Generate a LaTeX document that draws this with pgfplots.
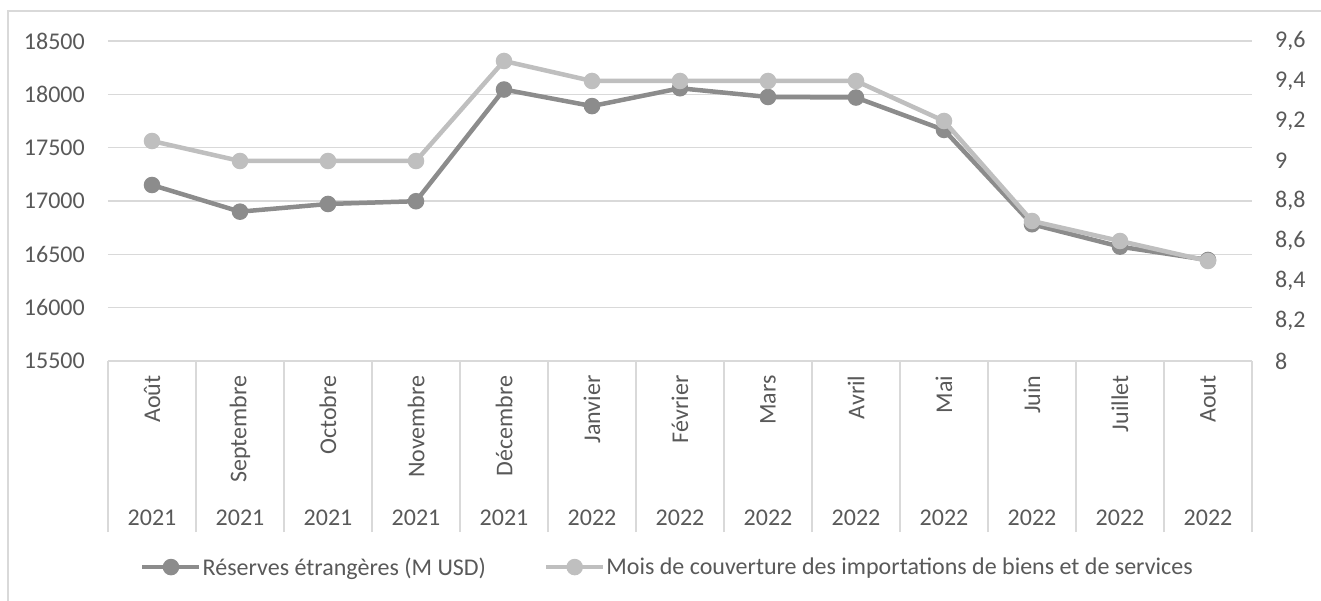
\documentclass[border=0pt]{standalone}
\usepackage{pgfplots}
\pgfplotsset{compat=1.18}
\usepackage{fontspec}
\setmainfont{Carlito}
\definecolor{textgray}{HTML}{595959}
\definecolor{gridgray}{HTML}{D9D9D9}
\definecolor{darkser}{HTML}{8C8C8C}
\definecolor{lightser}{HTML}{BFBFBF}
\newcommand{\lbl}{\fontsize{24}{28.5}\selectfont}
\begin{document}
\begin{tikzpicture}
\useasboundingbox (-108pt,-240pt) rectangle (1213pt,361pt);
\draw[gridgray, line width=1.3pt] (-100pt,-250pt) -- (-100pt,350pt) -- (1230pt,350pt);
\pgfplotsset{
  base/.style={
    scale only axis, width=1144pt, height=320pt,
    xmin=-0.5, xmax=12.5,
    clip=false,
    axis line style={draw=none},
    major tick length=0pt,
    tick style={draw=none},
    xtick=\empty,
    scaled ticks=false,
    ticklabel style={font=\lbl, text=textgray},
    /pgf/number format/assume math mode=true,
    /pgf/number format/set thousands separator={},
  },
  ser/.style={line width=4.5pt, mark=*, mark size=6pt, mark options={solid}},
}
\begin{axis}[base,
  ymin=15500, ymax=18500,
  ytick={15500,16000,16500,17000,17500,18000,18500},
  ytick pos=left,
  yticklabel style={inner sep=0pt, xshift=-23pt},
  ymajorgrids,
  grid style={draw=gridgray, line width=1.3pt},
  xtick pos=bottom,
  extra x ticks={-0.5,0.5,1.5,2.5,3.5,4.5,5.5,6.5,7.5,8.5,9.5,10.5,11.5,12.5},
  extra x tick labels={},
  extra x tick style={major tick length=171pt, tick align=outside,
    tick style={draw=gridgray, line width=1.3pt}, grid=none},
]
\addplot[ser, color=darkser] coordinates {
 (0,17150) (1,16900) (2,16972) (3,16998) (4,18045) (5,17890) (6,18057)
 (7,17975) (8,17970) (9,17666) (10,16782) (11,16572) (12,16447)};
\foreach \i/\m in {0/Août,1/Septembre,2/Octobre,3/Novembre,4/Décembre,5/Janvier,6/Février,7/Mars,8/Avril,9/Mai,10/Juin,11/Juillet,12/Aout}{
  \edef\tmp{\noexpand\node[rotate=90, anchor=east, inner sep=0pt, font=\noexpand\lbl, text=textgray] at (axis cs:\i,15365) {\m};}
  \tmp
}
\foreach \i/\yr in {0/2021,1/2021,2/2021,3/2021,4/2021,5/2022,6/2022,7/2022,8/2022,9/2022,10/2022,11/2022,12/2022}{
  \edef\tmp{\noexpand\node[anchor=center, inner sep=0pt, font=\noexpand\lbl, text=textgray] at (axis cs:\i,14028) {\yr};}
  \tmp
}
\end{axis}
\begin{axis}[base,
  ymin=8, ymax=9.6,
  ytick={8,8.2,8.4,8.6,8.8,9,9.2,9.4,9.6},
  yticklabel pos=right,
  yticklabel style={inner sep=0pt, xshift=23pt, anchor=west,
    /pgf/number format/use comma},
  legend columns=2,
  legend style={at={(0.028,-0.644)}, anchor=west, draw=none, fill=none,
    inner sep=0pt, font=\lbl, text=textgray, nodes={inner xsep=1pt},
    /tikz/every even column/.append style={column sep=57pt}},
  legend image code/.code={\draw[#1, mark repeat=2, mark phase=2] plot coordinates {(0pt,0pt) (28.5pt,0pt) (57pt,0pt)};},
]
\addlegendimage{ser, color=darkser}
\addlegendentry{Réserves étrangères (M USD)}
\addplot[ser, color=lightser] coordinates {
 (0,9.1) (1,9.0) (2,9.0) (3,9.0) (4,9.5) (5,9.4) (6,9.4)
 (7,9.4) (8,9.4) (9,9.2) (10,8.7) (11,8.6) (12,8.5)};
\addlegendentry{Mois de couverture des importations de biens et de services}
\end{axis}
\end{tikzpicture}
\end{document}
